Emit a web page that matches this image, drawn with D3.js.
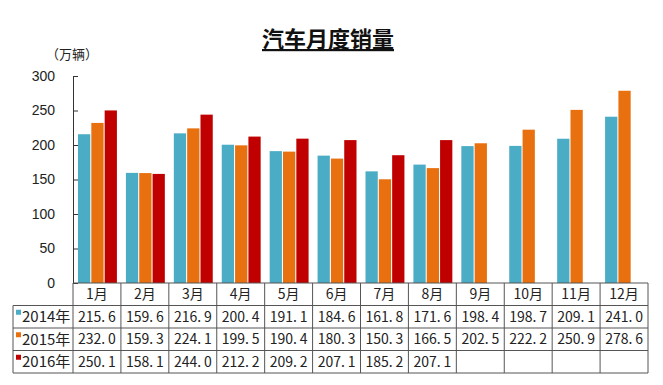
<!DOCTYPE html>
<html>
<head>
<meta charset="utf-8">
<script src="https://cdn.jsdelivr.net/npm/d3@7"></script>
<style>
  body { margin: 0; background: #fff; }
  svg { display: block; }
</style>
</head>
<body>
<div id="visContainer"></div>
<script>
'use strict';

// chart data
var months = ['1月','2月','3月','4月','5月','6月','7月','8月','9月','10月','11月','12月'];
var seriesNames = ['2014年','2015年','2016年'];
var sales2014 = [215.6,159.6,216.9,200.4,191.1,184.6,161.8,171.6,198.4,198.7,209.1,241.0];
var sales2015 = [232.0,159.3,224.1,199.5,190.4,180.3,150.3,166.5,202.5,222.2,250.9,278.6];
var sales2016 = [250.1,158.1,244.0,212.2,209.2,207.1,185.2,207.1,null,null,null,null];
var yTicks = [0,50,100,150,200,250,300];
var colors = ['#4bacc6','#e8700e','#c00000'];

var seriesValues = [sales2014, sales2015, sales2016];

var width = 663, height = 385;
var svg = d3.select('#visContainer')
    .append('svg')
    .attr('width', width)
    .attr('height', height);

var plotLeft = 73, plotRight = 648, plotTop = 76, plotBottom = 283;
var rowH = 22.5;

// title
svg.append('text')
    .attr('x', 328).attr('y', 47)
    .attr('text-anchor', 'middle')
    .style('font-family', '"Noto Sans CJK SC"')
    .style('font-size', '22px')
    .style('font-weight', 'bold')
    .style('text-decoration', 'underline')
    .attr('fill', '#111')
    .text('汽车月度销量');

svg.append('text')
    .attr('x', 72).attr('y', 59)
    .attr('text-anchor', 'middle')
    .style('font-family', '"Noto Sans CJK SC"')
    .style('font-size', '13px')
    .attr('fill', '#222')
    .text('（万辆）');

var x = d3.scaleBand().domain(months).range([plotLeft, plotRight]);
var xInner = d3.scaleBand().domain(d3.range(3))
    .range([5, x.bandwidth() - 4]).paddingInner(0.08);
var y = d3.scaleLinear().domain([0, 300]).range([plotBottom, plotTop]);

// y axis
var yAxis = d3.axisLeft(y).tickValues(yTicks).tickSizeInner(-5).tickSizeOuter(0).tickPadding(18);
var gy = svg.append('g').attr('transform', 'translate(' + plotLeft + ',0)').call(yAxis);
gy.select('.domain').attr('stroke', '#333');
gy.selectAll('.tick line').attr('stroke', '#333');
gy.selectAll('.tick text')
    .style('font-family', '"Liberation Sans", Arial, sans-serif')
    .style('font-size', '14px')
    .attr('fill', '#222');

// bars
var groups = svg.selectAll('g.month')
    .data(months)
    .enter().append('g')
    .attr('class', 'month')
    .attr('transform', function(d){ return 'translate(' + x(d) + ',0)'; });

groups.selectAll('rect')
    .data(function(d, i){
        return seriesValues.map(function(s, k){ return {k: k, v: s[i]}; })
            .filter(function(e){ return e.v != null; });
    })
    .enter().append('rect')
    .attr('x', function(d){ return xInner(d.k); })
    .attr('width', xInner.bandwidth())
    .attr('y', function(d){ return y(d.v); })
    .attr('height', function(d){ return plotBottom - y(d.v); })
    .attr('fill', function(d){ return colors[d.k]; });

// data table
var tbl = svg.append('g').attr('class', 'table');
var lineColor = '#555';
var labelLeft = 13;
var tableBottom = plotBottom + rowH * 4;

// horizontal lines
tbl.append('line').attr('x1', plotLeft).attr('x2', plotRight).attr('y1', plotBottom).attr('y2', plotBottom)
    .attr('stroke', lineColor);
d3.range(1, 5).forEach(function(r){
    tbl.append('line')
        .attr('x1', labelLeft).attr('x2', plotRight)
        .attr('y1', plotBottom + r * rowH).attr('y2', plotBottom + r * rowH)
        .attr('stroke', lineColor);
});
// vertical lines
tbl.append('line').attr('x1', labelLeft).attr('x2', labelLeft)
    .attr('y1', plotBottom + rowH).attr('y2', tableBottom).attr('stroke', lineColor);
months.forEach(function(m){
    tbl.append('line').attr('x1', x(m)).attr('x2', x(m))
        .attr('y1', plotBottom).attr('y2', tableBottom).attr('stroke', lineColor);
});
tbl.append('line').attr('x1', plotRight).attr('x2', plotRight)
    .attr('y1', plotBottom).attr('y2', tableBottom).attr('stroke', lineColor);

var cellFont = '"Noto Sans CJK SC", sans-serif';

// header row
tbl.selectAll('text.month')
    .data(months)
    .enter().append('text')
    .attr('class', 'month')
    .attr('x', function(d){ return x(d) + x.bandwidth() / 2; })
    .attr('y', plotBottom + rowH / 2)
    .attr('dy', '0.36em')
    .attr('text-anchor', 'middle')
    .style('font-family', cellFont)
    .style('font-size', '14px')
    .attr('fill', '#222')
    .text(function(d){ return d; });

// series rows
seriesNames.forEach(function(name, k){
    var cy = plotBottom + rowH * (k + 1) + rowH / 2;
    tbl.append('rect')
        .attr('x', 16).attr('y', cy - 7)
        .attr('width', 5).attr('height', 5)
        .attr('fill', colors[k]);
    tbl.append('text')
        .attr('x', 22).attr('y', cy).attr('dy', '0.36em')
        .style('font-family', cellFont)
        .style('font-size', '15px')
        .attr('fill', '#222')
        .text(name);
    tbl.selectAll('text.v' + k)
        .data(seriesValues[k])
        .enter().append('text')
        .attr('class', 'v' + k)
        .attr('x', function(d, i){ return x(months[i]) + x.bandwidth() / 2; })
        .attr('y', cy).attr('dy', '0.36em')
        .attr('text-anchor', 'middle')
        .style('font-family', cellFont)
        .style('font-size', '14px')
        .style('white-space', 'pre')
        .attr('fill', '#222')
        .text(function(d){ return d == null ? '' : d.toFixed(1).replace('.', '.\u2009'); });
});
</script>
</body>
</html>
